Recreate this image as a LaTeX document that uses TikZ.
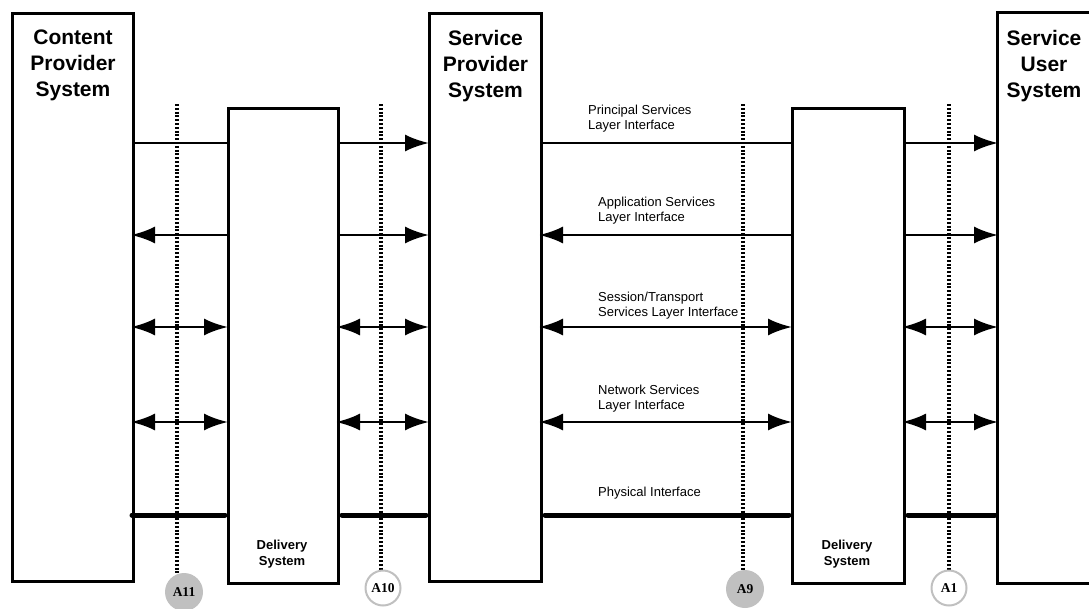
\documentclass[tikz,border=0pt]{standalone}
\usepackage{fontspec}
\setmainfont{Liberation Sans}
\newfontfamily\markfont{Liberation Serif}
\usetikzlibrary{positioning,arrows.meta,backgrounds}
\definecolor{markgray}{RGB}{192,192,192}

\begin{document}
\begin{tikzpicture}[
    x=1pt, y=-1pt,
    >={Latex[length=24pt,width=17pt]},
    % System and delivery boxes
    sysbox/.style={
        draw=black,
        line width=3pt,
        anchor=north west,
        inner sep=0pt,
        minimum width=#1,
        minimum height=568pt
    },
    dlvbox/.style={
        draw=black,
        line width=3pt,
        anchor=north west,
        inner sep=0pt,
        minimum width=110pt,
        minimum height=475pt
    },
    systitle/.style={
        align=center,
        inner sep=0pt,
        anchor=north,
        font=\fontsize{21}{26}\selectfont\bfseries
    },
    dlvtitle/.style={
        align=center,
        inner sep=0pt,
        font=\fontsize{13}{16}\selectfont\bfseries
    },
    layerlabel/.style={
        align=left,
        inner sep=0pt,
        anchor=base west,
        font=\fontsize{13}{15.5}\selectfont
    },
    % Interface lines
    link/.style={
        draw=black,
        line width=2.5pt
    },
    tipstart/.style={shorten <=-4pt},
    tipend/.style={shorten >=-1pt},
    physlink/.style={
        draw=black,
        line width=5pt,
        line cap=round
    },
    % Reference points
    refline/.style={
        draw=black,
        line width=4.5pt,
        dash pattern=on 2pt off 1.8pt
    },
    markfill/.style={
        circle,
        fill=markgray,
        inner sep=0pt,
        minimum size=38pt,
        font=\markfont\fontsize{13.5}{13.5}\selectfont\bfseries
    },
    markopen/.style={
        circle,
        draw=markgray,
        fill=white,
        line width=2pt,
        inner sep=0pt,
        minimum size=35pt,
        font=\markfont\fontsize{13.5}{13.5}\selectfont\bfseries
    }
]

    \useasboundingbox (0,0) rectangle (1089,608);

    % =========================================================================
    % 1. ROW LEVELS
    % =========================================================================
    \coordinate (r1) at (0,143);
    \coordinate (r2) at (0,235);
    \coordinate (r3) at (0,327);
    \coordinate (r4) at (0,422);
    \coordinate (r5) at (0,515);

    % =========================================================================
    % 2. REFERENCE POINTS (dotted lines and markers)
    % =========================================================================
    \coordinate (a11top) at (177,104);
    \coordinate (a10top) at (381,104);
    \coordinate (a9top)  at (743,104);
    \coordinate (a1top)  at (949,104);

    \node[markfill] (a11) at (184,592) {A11};
    \node[markopen] (a10) at (383,588) {A10};
    \node[markfill] (a9)  at (745,589) {A9};
    \node[markopen] (a1)  at (949,588) {A1};

    \begin{scope}[on background layer]
        \draw[refline] (a11top) -- (a11top |- a11.north);
        \draw[refline] (a10top) -- ([yshift=-8pt]a10top |- a10.north);
        \draw[refline] (a9top)  -- (a9top |- a9.north);
        \draw[refline] (a1top)  -- ([yshift=-8pt]a1top |- a1.north);
    \end{scope}

    % =========================================================================
    % 3. SYSTEMS
    % =========================================================================
    % Content Provider System
    \node[sysbox=121pt] (cps) at (11,12) {};
    \node[systitle, below=18pt of cps.north] (cpstitle) {Content\\Provider\\System};

    % Delivery System (left)
    \node[dlvbox] (dsl) at (227,107) {};
    \node[dlvtitle] (dsltitle) at (282,554) {Delivery\\System};

    % Service Provider System
    \node[sysbox=112pt] (sps) at (428,12) {};
    \node[systitle, below=18pt of sps.north] (spstitle) {Service\\Provider\\System};

    % Delivery System (right)
    \node[dlvbox, minimum width=112pt] (dsr) at (791,107) {};
    \node[dlvtitle] (dsrtitle) at (847,554) {Delivery\\System};

    % Service User System (cut off at the right edge)
    \node[sysbox=96pt, draw=none] (sus) at (997,12) {};
    \draw[line width=3pt] (sus.north east) -- (sus.north west)
        -- (sus.south west) -- (sus.south east);
    \node[systitle, anchor=north] (sustitle) at (1044,30) {Service\\User\\System};

    % =========================================================================
    % 4. LAYER INTERFACES
    % =========================================================================
    % Principal Services Layer
    \draw[link] (cps.east |- r1) -- (dsl.west |- r1);
    \draw[link, ->, tipend] (dsl.east |- r1) -- (sps.west |- r1);
    \draw[link] (sps.east |- r1) -- (dsr.west |- r1);
    \draw[link, ->, tipend] (dsr.east |- r1) -- (sus.west |- r1);

    % Application Services Layer
    \draw[link, <-, tipstart] (cps.east |- r2) -- (dsl.west |- r2);
    \draw[link, ->, tipend] (dsl.east |- r2) -- (sps.west |- r2);
    \draw[link, <-, tipstart] (sps.east |- r2) -- (dsr.west |- r2);
    \draw[link, ->, tipend] (dsr.east |- r2) -- (sus.west |- r2);

    % Session/Transport Services Layer
    \draw[link, <->, tipstart, tipend] (cps.east |- r3) -- (dsl.west |- r3);
    \draw[link, <->, tipstart, tipend] (dsl.east |- r3) -- (sps.west |- r3);
    \draw[link, <->, tipstart, tipend] (sps.east |- r3) -- (dsr.west |- r3);
    \draw[link, <->, tipstart, tipend] (dsr.east |- r3) -- (sus.west |- r3);

    % Network Services Layer
    \draw[link, <->, tipstart, tipend] (cps.east |- r4) -- (dsl.west |- r4);
    \draw[link, <->, tipstart, tipend] (dsl.east |- r4) -- (sps.west |- r4);
    \draw[link, <->, tipstart, tipend] (sps.east |- r4) -- (dsr.west |- r4);
    \draw[link, <->, tipstart, tipend] (dsr.east |- r4) -- (sus.west |- r4);

    % Physical Interface
    \draw[physlink] ([xshift=-3pt]cps.east |- r5) -- ([xshift=-2pt]dsl.west |- r5);
    \draw[physlink] ([xshift=2pt]dsl.east |- r5) -- ([xshift=-2pt]sps.west |- r5);
    \draw[physlink] ([xshift=2pt]sps.east |- r5) -- ([xshift=-2pt]dsr.west |- r5);
    \draw[physlink] ([xshift=2pt]dsr.east |- r5) -- ([xshift=-2pt]sus.west |- r5);

    % Labels
    \node[layerlabel] (lbl1) at (588,129.5) {Principal Services\\Layer Interface};
    \node[layerlabel] (lbl2) at (598,221.5) {Application Services\\Layer Interface};
    \node[layerlabel] (lbl3) at (598,316.5) {Session/Transport\\Services Layer Interface};
    \node[layerlabel] (lbl4) at (598,409.5) {Network Services\\Layer Interface};
    \node[layerlabel] (lbl5) at (598,496.5) {Physical Interface};

\end{tikzpicture}
\end{document}
